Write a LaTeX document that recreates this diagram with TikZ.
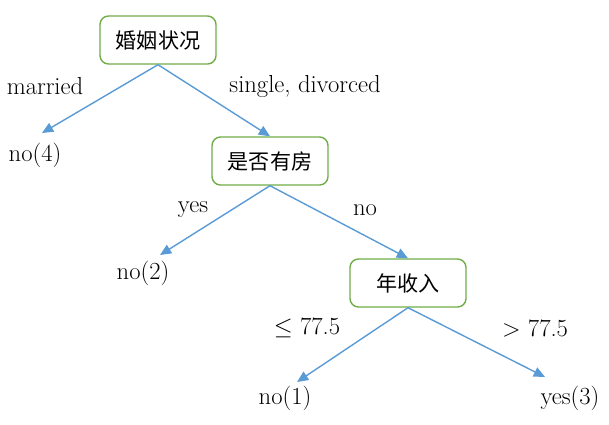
\documentclass[tikz,border=0pt]{standalone}
\usepackage{fontspec}
\newfontfamily\cjk{Noto Sans CJK SC}
\usetikzlibrary{arrows.meta}
\definecolor{boxgreen}{RGB}{112,173,71}
\definecolor{edgeblue}{RGB}{91,155,213}
\tikzset{
  attr/.style={draw=boxgreen, line width=1pt, rounded corners=6pt, fill=white,
    minimum width=116*0.025cm, minimum height=48*0.025cm, font=\cjk\fontsize{15}{18}\selectfont},
  leaf/.style={inner sep=1pt, font=\fontsize{17.5}{20}\selectfont},
  lbl/.style={font=\fontsize{17.5}{20}\selectfont},
  edge/.style={draw=edgeblue, line width=1pt, -{Triangle[length=8pt,width=7pt]}}
}
\begin{document}
\begin{tikzpicture}[x=0.025cm,y=-0.025cm]
\useasboundingbox (0,0) rectangle (609,424);
\node[attr] (m) at (158,40) {婚姻状况};
\node[attr] (h) at (270,161) {是否有房};
\node[attr] (s) at (408,283) {年收入};
\node[leaf] (n4) at (35,155) {no(4)};
\node[leaf] (n2) at (143,273) {no(2)};
\node[leaf] (n1) at (285,398) {no(1)};
\node[leaf] (y3) at (570,398) {yes(3)};
\draw[edge] (m.south) -- (42,133);
\draw[edge] (m.south) -- (h.north);
\draw[edge] (h.south) -- (160,255);
\draw[edge] (h.south) -- (s.north);
\draw[edge] (s.south) -- (297,382);
\draw[edge] (s.south) -- (545,377);
\node[lbl] at (45,86) {married};
\node[lbl] at (305,86) {single, divorced};
\node[lbl] at (193,210) {yes};
\node[lbl] at (365,210) {no};
\node[lbl] at (307,328) {$\leq$ 77.5};
\node[lbl] at (535,328) {$>$ 77.5};
\end{tikzpicture}
\end{document}
